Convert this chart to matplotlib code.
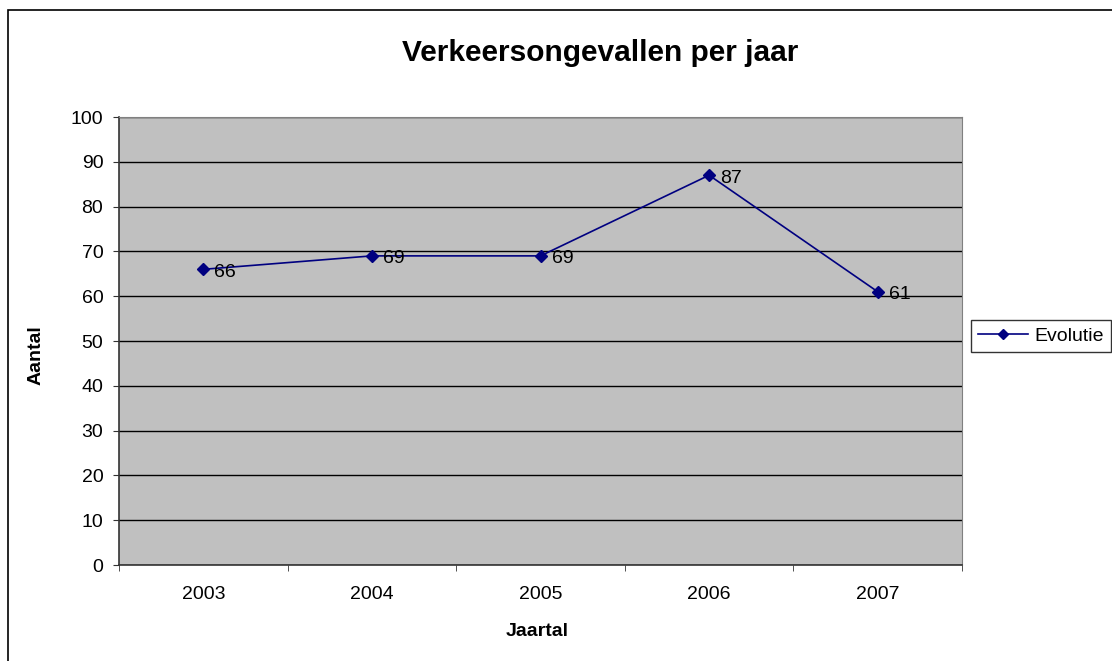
import matplotlib
matplotlib.use("Agg")
import matplotlib.pyplot as plt
from matplotlib.patches import Rectangle

years = ["2003", "2004", "2005", "2006", "2007"]
values = [66, 69, 69, 87, 61]
series_name = "Evolutie"
title = "Verkeersongevallen per jaar"
xlabel = "Jaartal"
ylabel = "Aantal"

plt.rcParams['font.family'] = ['Liberation Sans', 'DejaVu Sans']

W, H = 1112, 661
fig = plt.figure(figsize=(W / 100, H / 100), dpi=100)
fig.patch.set_facecolor('white')
fig.patches.append(Rectangle((8 / W, -0.1), 1.2, 1.1 - 10 / H,
                             transform=fig.transFigure, fill=False,
                             edgecolor='black', linewidth=1.2))

ax = fig.add_axes([119 / W, 1 - 565 / H, (962 - 119) / W, (565 - 117) / H])
ax.set_facecolor('#c0c0c0')
x = list(range(len(years)))
ax.plot(x, values, color='#000080', linewidth=1.2, marker='D', markersize=6,
        label=series_name, zorder=3)
for xi, v in zip(x, values):
    ax.annotate(str(v), (xi, v), xytext=(8, -2), textcoords='offset points',
                ha='left', va='center', fontsize=14, color='black', zorder=4)

ax.set_xlim(-0.5, len(years) - 0.5)
ax.set_ylim(0, 100)
ax.set_yticks(range(0, 101, 10))
ax.set_xticks(x)
ax.set_xticklabels(years, fontsize=14)
ax.set_xticks([i - 0.5 for i in range(len(years) + 1)], minor=True)
ax.tick_params(axis='x', which='major', length=0, pad=15)
ax.tick_params(axis='x', which='minor', length=4.3, color='#333333')
ax.tick_params(axis='y', labelsize=14, length=4.3, pad=7, color='#333333')
ax.yaxis.grid(True, color='black', linewidth=1)
ax.set_axisbelow(True)
for side in ['top', 'right']:
    ax.spines[side].set_color('#808080')
for side in ['left', 'bottom']:
    ax.spines[side].set_color('#333333')
    ax.spines[side].set_linewidth(1.2)

fig.text(600 / W, 1 - 53 / H, title, fontsize=21.5, fontweight='bold',
         ha='center', va='center')
fig.text(537 / W, 1 - 632 / H, xlabel, fontsize=14, fontweight='bold',
         ha='center', va='center')
fig.text(36 / W, 1 - 355 / H, ylabel, fontsize=14, fontweight='bold',
         ha='center', va='center', rotation=90)

leg = ax.legend(loc='center left', bbox_to_anchor=(971 / W, 1 - 336 / H),
                bbox_transform=fig.transFigure, frameon=True, fancybox=False,
                fontsize=14, borderaxespad=0, handlelength=2.6,
                handletextpad=0.3, borderpad=0.35, markerscale=0.8)
leg.get_frame().set_edgecolor('black')
leg.get_frame().set_linewidth(1)

fig.savefig("out.png", dpi=100)
